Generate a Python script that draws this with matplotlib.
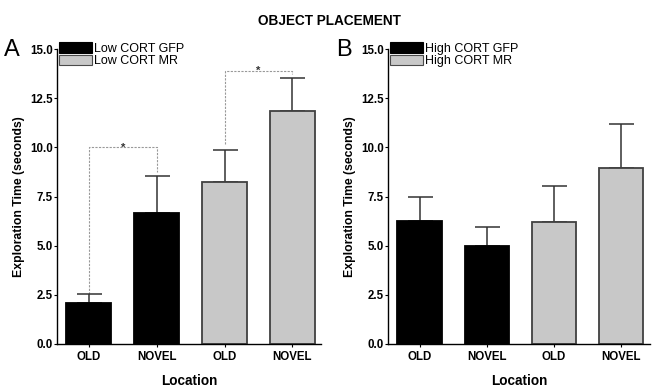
import matplotlib
matplotlib.use("Agg")
import matplotlib.pyplot as plt
from matplotlib.patches import Patch
import numpy as np

plt.rcParams["font.family"] = ["Liberation Sans", "DejaVu Sans"]

locations = ["OLD", "NOVEL", "OLD", "NOVEL"]
groups_a = ["Low CORT GFP", "Low CORT MR"]
groups_b = ["High CORT GFP", "High CORT MR"]
means_a = [2.08, 6.68, 8.25, 11.85]
sem_a = [0.45, 1.85, 1.6, 1.7]
means_b = [6.25, 5.0, 6.2, 8.97]
sem_b = [1.22, 0.95, 1.85, 2.2]
bar_groups = [0, 0, 1, 1]
yticks = [0.0, 2.5, 5.0, 7.5, 10.0, 12.5, 15.0]

BLACK = "#000000"
GREY = "#c8c8c8"


def draw_panel(ax, means, sem, labels, letter):
    x = np.arange(len(means))
    colors = [BLACK if g == 0 else GREY for g in bar_groups]
    edges = ["#000000" if g == 0 else "#404040" for g in bar_groups]
    ax.bar(x, means, width=0.66, color=colors, edgecolor=edges, linewidth=1.3, zorder=2)
    ax.errorbar(x, means, yerr=[np.zeros(len(sem)), sem], fmt="none",
                ecolor="#333333", elinewidth=1.1, capsize=9, capthick=1.1, zorder=1)
    ax.set_xlim(-0.47, 3.43)
    ax.set_ylim(0, 15)
    ax.set_yticks(yticks)
    ax.set_yticklabels([f"{v:.1f}" for v in yticks], fontweight="bold", fontsize=8.3)
    ax.set_xticks(x)
    ax.set_xticklabels(locations, fontweight="bold", fontsize=8.3)
    ax.tick_params(axis="y", length=2, width=0.8, pad=1)
    ax.tick_params(axis="x", length=2, width=0.8, pad=3)
    for s in ("top", "right"):
        ax.spines[s].set_visible(False)
    for s in ("left", "bottom"):
        ax.spines[s].set_linewidth(1.0)
    ax.set_ylabel("Exploration Time (seconds)", fontweight="bold", fontsize=8.8, labelpad=4)
    ax.set_xlabel("Location", fontweight="bold", fontsize=9.8, labelpad=8)
    handles = [Patch(facecolor=BLACK, edgecolor="#000000", linewidth=0.8),
               Patch(facecolor=GREY, edgecolor="#4a4a4a", linewidth=0.8)]
    ax.legend(handles, labels, loc="upper left", bbox_to_anchor=(-0.01, 1.04),
              frameon=False, fontsize=9, handlelength=2.6, handleheight=0.9,
              handletextpad=0.2, labelspacing=0.0, borderaxespad=0)
    ax.text(-0.2, 1.035, letter, transform=ax.transAxes, fontsize=17, va="top", ha="left")


def bracket(ax, x1, y1, x2, y2, top):
    kw = dict(color="#999999", lw=0.8, ls=(0, (2, 1.2)), zorder=0)
    ax.plot([x1, x1, x2, x2], [y1, top, top, y2], **kw)
    ax.text((x1 + x2) / 2, top, "*", ha="center", va="center", fontsize=8,
            fontweight="bold", color="#333333")


fig = plt.figure(figsize=(6.58, 3.89), dpi=100)
ax_a = fig.add_axes([0.0866, 0.1157, 0.402, 0.758])
ax_b = fig.add_axes([0.5897, 0.1157, 0.398, 0.758])

draw_panel(ax_a, means_a, sem_a, groups_a, "A")
draw_panel(ax_b, means_b, sem_b, groups_b, "B")

bracket(ax_a, 0, means_a[0] + sem_a[0], 1, means_a[1] + sem_a[1] + 0.2, 10.0)
bracket(ax_a, 2, means_a[2] + sem_a[2] + 0.3, 3, means_a[3] + sem_a[3] + 0.2, 13.9)

fig.suptitle("OBJECT PLACEMENT", fontweight="bold", fontsize=9.8, y=0.965)
fig.savefig("out.png", dpi=100)
